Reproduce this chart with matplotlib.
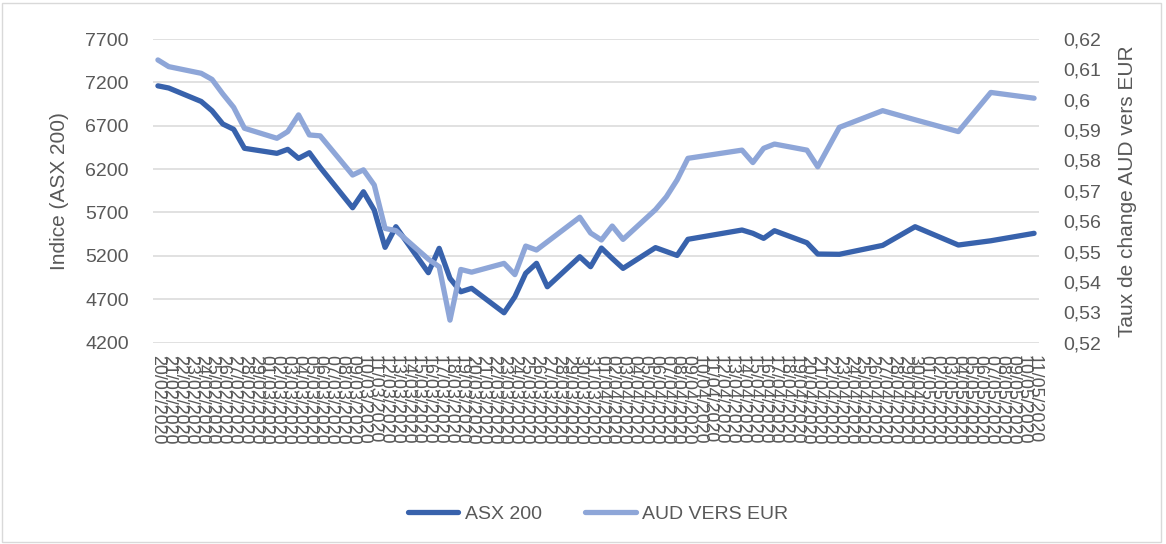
import numpy as np
import pandas as pd
import matplotlib
matplotlib.use("Agg")
import matplotlib.pyplot as plt
import matplotlib.dates as mdates
from matplotlib.patches import Rectangle

plt.rcParams['font.family'] = ['Liberation Sans', 'DejaVu Sans']

# dates (jj/mm/aaaa) of the points shown on the chart
dates = ["20/02/2020", "21/02/2020", "24/02/2020", "25/02/2020", "26/02/2020",
         "27/02/2020", "28/02/2020", "02/03/2020", "03/03/2020", "04/03/2020",
         "05/03/2020", "06/03/2020", "09/03/2020", "10/03/2020", "11/03/2020",
         "12/03/2020", "13/03/2020", "16/03/2020", "17/03/2020", "18/03/2020",
         "19/03/2020", "20/03/2020", "23/03/2020", "24/03/2020", "25/03/2020",
         "26/03/2020", "27/03/2020", "30/03/2020", "31/03/2020", "01/04/2020",
         "02/04/2020", "03/04/2020", "06/04/2020", "07/04/2020", "08/04/2020",
         "09/04/2020", "14/04/2020", "15/04/2020", "16/04/2020", "17/04/2020",
         "20/04/2020", "21/04/2020", "23/04/2020", "27/04/2020", "30/04/2020",
         "04/05/2020", "07/05/2020", "11/05/2020"]

asx200 = [7160, 7135, 6980, 6873, 6720, 6659, 6440, 6382, 6428, 6324,
          6389, 6220, 5755, 5939, 5728, 5298, 5536, 5006, 5287, 4941,
          4786, 4826, 4544, 4729, 4999, 5114, 4844, 5190, 5075, 5290,
          5170, 5056, 5295, 5250, 5205, 5391, 5498, 5460, 5402, 5490,
          5351, 5221, 5218, 5321, 5536, 5325, 5374, 5460]

aud_eur = [0.6131, 0.6109, 0.6087, 0.6067, 0.6019, 0.5975, 0.5906, 0.5873, 0.5895, 0.5950,
           0.5884, 0.5881, 0.5752, 0.5769, 0.5719, 0.5576, 0.5569, 0.5475, 0.5450, 0.5274,
           0.5441, 0.5432, 0.5461, 0.5424, 0.5518, 0.5505, 0.5532, 0.5613, 0.5561, 0.5538,
           0.5584, 0.5540, 0.5638, 0.5680, 0.5736, 0.5807, 0.5834, 0.5793, 0.5840, 0.5854,
           0.5834, 0.5779, 0.5909, 0.5964, 0.5934, 0.5895, 0.6024, 0.6005]

left_ticks = [4200, 4700, 5200, 5700, 6200, 6700, 7200, 7700]
right_ticks = [0.52, 0.53, 0.54, 0.55, 0.56, 0.57, 0.58, 0.59, 0.60, 0.61, 0.62]
right_labels = ["0,52", "0,53", "0,54", "0,55", "0,56", "0,57", "0,58", "0,59", "0,6", "0,61", "0,62"]

dark = '#3862ac'
light = '#8ea6d8'
txt = '#595959'

x = pd.to_datetime(dates, format="%d/%m/%Y")

fig = plt.figure(figsize=(11.66, 5.44), dpi=100)
ax = fig.add_axes([0.1308, 0.3702, 0.7607, 0.5581])
ax2 = ax.twinx()

l1, = ax.plot(x, asx200, color=dark, lw=3.8, solid_joinstyle='round',
              solid_capstyle='round', label='ASX 200', zorder=3)
l2, = ax2.plot(x, aud_eur, color=light, lw=3.8, solid_joinstyle='round',
               solid_capstyle='round', label='AUD VERS EUR', zorder=3)

ax.set_ylim(4200, 7700)
ax.set_yticks(left_ticks)
ax2.set_ylim(0.52, 0.62)
ax2.set_yticks(right_ticks)
ax2.set_yticklabels(right_labels)

ax.grid(axis='y', color='#d9d9d9', lw=1.1)
ax.set_axisbelow(True)
for a in (ax, ax2):
    for s in a.spines.values():
        s.set_visible(False)
    a.tick_params(length=0, colors=txt)

ax.tick_params(axis='y', labelsize=14, pad=17)
ax2.tick_params(axis='y', labelsize=14, pad=17)

# half a day of room on each side, like the date axis of the original
start = x[0] - pd.Timedelta(hours=12)
end = x[-1] + pd.Timedelta(hours=12)
ax.set_xlim(start, end)
ax.xaxis.set_major_locator(mdates.DayLocator())
ax.xaxis.set_major_formatter(mdates.DateFormatter('%d/%m/%Y'))
ax.tick_params(axis='x', labelsize=12.9, pad=9, labelrotation=-90)
for lab in ax.get_xticklabels():
    lab.set_verticalalignment('top')

ax.set_ylabel('Indice (ASX 200)', fontsize=15, color=txt, labelpad=12)
ax2.set_ylabel('Taux de change AUD vers EUR', fontsize=15, color=txt, labelpad=12)

fig.legend(handles=[l1, l2], loc='center', bbox_to_anchor=(0.513, 0.055),
           ncol=2, frameon=False, fontsize=14, handlelength=2.6,
           handletextpad=0.35, columnspacing=2.2, labelcolor=txt)

fig.patches.append(Rectangle((0.002, 0.004), 0.994, 0.99, transform=fig.transFigure,
                             fill=False, edgecolor='#d9d9d9', lw=1))

fig.savefig('out.png', dpi=100)
